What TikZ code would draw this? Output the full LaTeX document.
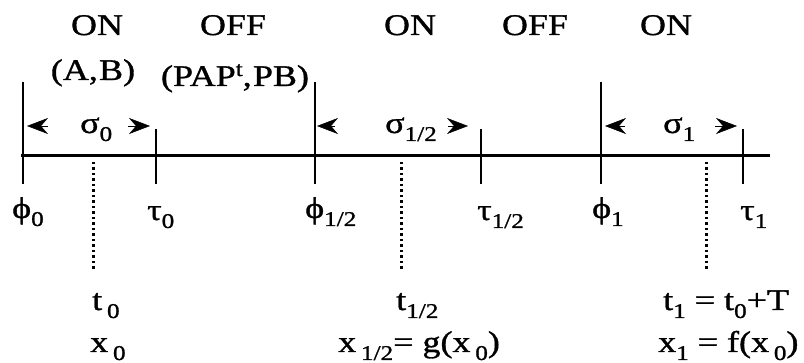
\documentclass[tikz,border=0pt]{standalone}
\usepackage{fontspec}
\setmainfont{Liberation Serif}
\newfontfamily\scanfont[FakeBold=1]{Liberation Serif}
\usetikzlibrary{arrows.meta}

\newcommand{\wide}[1]{\scalebox{1.2}[1]{#1}}
\newcommand{\lo}[1]{\raisebox{-8pt}{\fontsize{21}{21}\selectfont #1}}
\newcommand{\hi}[1]{\raisebox{10pt}{\fontsize{21}{21}\selectfont #1}}

\begin{document}
\begin{tikzpicture}[x=1pt, y=-1pt,
    lbl/.style={inner sep=0pt, font=\scanfont\fontsize{30}{36}\selectfont},
    axisline/.style={line width=3pt},
    tickline/.style={line width=2.6pt},
    dots/.style={line width=3pt, dash pattern=on 2.5pt off 3pt},
    spanhead/.style={-{Stealth[length=21pt, width=16pt, inset=7pt]}, line width=0.5pt}]
    \useasboundingbox (0,0) rectangle (804,363);

    % time axis
    \coordinate (start) at (21,156);
    \coordinate (end) at (770,156);
    \draw[axisline] (start) -- (end);

    % switching instants
    \foreach \x/\n in {23/0, 315/half, 601/1} {
        \coordinate (ptop\n) at (\x,82);
        \coordinate (pbot\n) at (\x,184);
        \draw[tickline] (ptop\n) -- (pbot\n);
    }
    \foreach \x/\n in {156/0, 481/half, 743/1} {
        \coordinate (ttop\n) at (\x,129);
        \coordinate (tbot\n) at (\x,184);
        \draw[tickline] (ttop\n) -- (tbot\n);
    }

    % span marks
    \foreach \a/\b/\n in {48/27/a, 128/150/b, 335/317/c, 448/468/d, 625/605/e, 715/737/f} {
        \coordinate (hfrom\n) at (\a,126);
        \coordinate (hto\n) at (\b,126);
        \draw[spanhead] (hfrom\n) -- (hto\n);
    }

    % sample instants
    \foreach \x/\n in {93/0, 401/half, 706/1} {
        \coordinate (dtop\n) at (\x,162);
        \coordinate (dbot\n) at (\x,270);
        \draw[dots] (dtop\n) -- (dbot\n);
    }

    % modes
    \node[lbl, anchor=base] (on0) at (97,35) {\wide{ON}};
    \node[lbl, anchor=base] (sysAB) at (93,80) {\wide{(A,\kern1pt B)}};
    \node[lbl, anchor=base] (off0) at (233,35) {\wide{OFF}};
    \node[lbl, anchor=base] (sysP) at (235,86) {\wide{(PAP\hi{t},\kern1pt PB)}};
    \node[lbl, anchor=base] (onhalf) at (410,35) {\wide{ON}};
    \node[lbl, anchor=base] (offhalf) at (535,35) {\wide{OFF}};
    \node[lbl, anchor=base] (on1) at (666,35) {\wide{ON}};

    % durations
    \node[lbl, anchor=base west] (sig0) at (80,133) {\wide{σ\lo{0}}};
    \node[lbl, anchor=base west] (sighalf) at (385,133) {\wide{σ\lo{1/2}}};
    \node[lbl, anchor=base west] (sig1) at (663,133) {\wide{σ\lo{1}}};

    % instants
    \node[lbl, anchor=base west] (phi0) at (12,218) {\wide{ϕ\lo{0}}};
    \node[lbl, anchor=base west] (phihalf) at (305,218) {\wide{ϕ\lo{1/2}}};
    \node[lbl, anchor=base west] (phi1) at (592,218) {\wide{ϕ\lo{1}}};
    \node[lbl, anchor=base west] (tau0) at (147,220) {\wide{τ\lo{0}}};
    \node[lbl, anchor=base west] (tauhalf) at (477,220) {\wide{τ\lo{1/2}}};
    \node[lbl, anchor=base west] (tau1) at (740,220) {\wide{τ\lo{1}}};

    % samples
    \node[lbl, anchor=base west] (t0) at (92,310) {\wide{t\kern4pt\lo{0}}};
    \node[lbl, anchor=base west] (x0) at (90,352) {\wide{x\kern4pt\lo{0}}};
    \node[lbl, anchor=base west] (thalf) at (396,310) {\wide{t\lo{1/2}}};
    \node[lbl, anchor=base west] (xhalf) at (338,352) {\wide{x\kern4pt\lo{1/2}= g(x\kern4pt\lo{0})}};
    \node[lbl, anchor=base west] (t1) at (663,310) {\wide{t\lo{1} = t\lo{0}+T}};
    \node[lbl, anchor=base west] (x1) at (658,352) {\wide{x\lo{1} = f(x\kern4pt\lo{0})}};
\end{tikzpicture}
\end{document}
